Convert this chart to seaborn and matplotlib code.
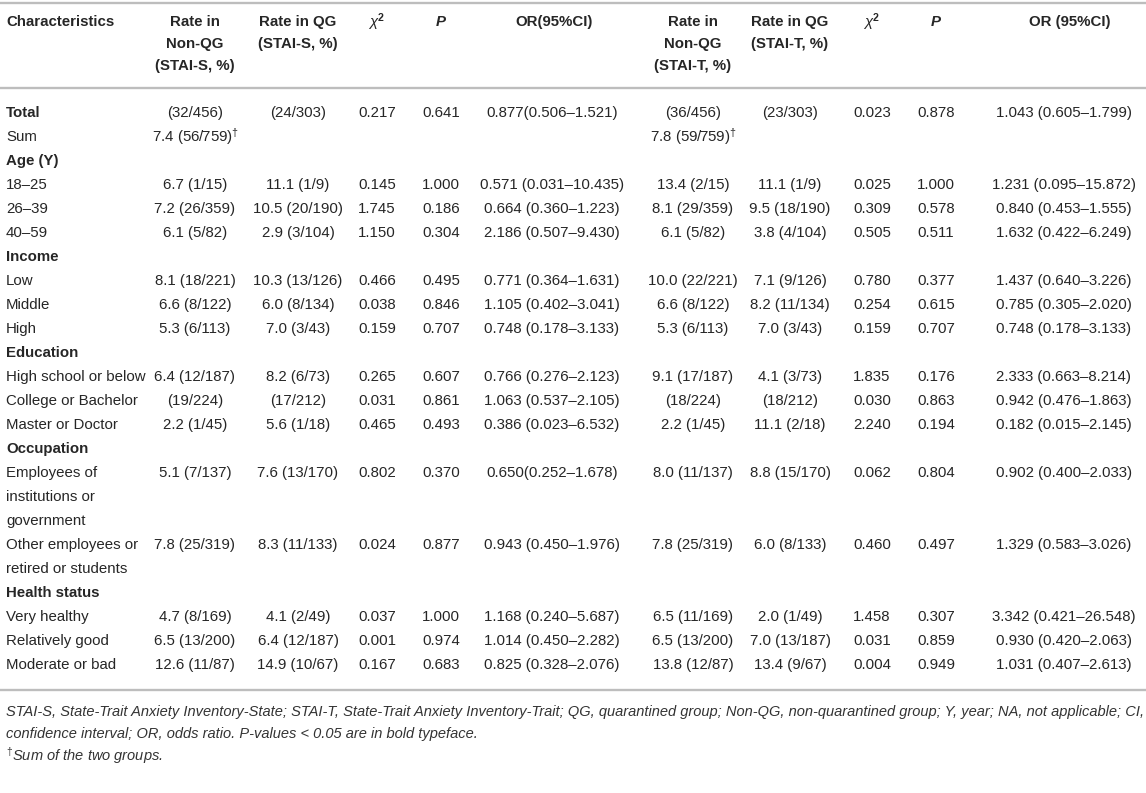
import matplotlib.pyplot as plt
import seaborn as sns

sns.set_style("white")
plt.rcParams["font.family"] = ["Liberation Sans", "DejaVu Sans"]
plt.rcParams["mathtext.fontset"] = "custom"
plt.rcParams["mathtext.rm"] = "Liberation Sans"
plt.rcParams["mathtext.it"] = "Liberation Sans:italic"
plt.rcParams["mathtext.bf"] = "Liberation Sans:bold"

# table contents
headers = ["Characteristics", "Rate in\nNon-QG\n(STAI-S, %)", "Rate in QG\n(STAI-S, %)", r"$\chi^{\mathbf{2}}$",
           "P", "OR(95%CI)", "Rate in\nNon-QG\n(STAI-T, %)", "Rate in QG\n(STAI-T, %)", r"$\chi^{\mathbf{2}}$",
           "P", "OR (95%CI)"]

row_labels = ["Total", "Sum", "Age (Y)", "18–25", "26–39", "40–59", "Income", "Low", "Middle", "High",
              "Education", "High school or below", "College or Bachelor", "Master or Doctor", "Occupation",
              "Employees of\ninstitutions or\ngovernment", "Other employees or\nretired or students",
              "Health status", "Very healthy", "Relatively good", "Moderate or bad"]
group_rows = ["Total", "Age (Y)", "Income", "Education", "Occupation", "Health status"]

rate_nonqg_s = ["(32/456)", r"7.4 (56/759)$^{\dagger}$", "", "6.7 (1/15)", "7.2 (26/359)", "6.1 (5/82)", "",
                "8.1 (18/221)", "6.6 (8/122)", "5.3 (6/113)", "", "6.4 (12/187)", "(19/224)", "2.2 (1/45)", "",
                "5.1 (7/137)", "7.8 (25/319)", "", "4.7 (8/169)", "6.5 (13/200)", "12.6 (11/87)"]
rate_qg_s = ["(24/303)", "", "", "11.1 (1/9)", "10.5 (20/190)", "2.9 (3/104)", "",
             "10.3 (13/126)", "6.0 (8/134)", "7.0 (3/43)", "", "8.2 (6/73)", "(17/212)", "5.6 (1/18)", "",
             "7.6 (13/170)", "8.3 (11/133)", "", "4.1 (2/49)", "6.4 (12/187)", "14.9 (10/67)"]
chi_s = ["0.217", "", "", "0.145", "1.745", "1.150", "", "0.466", "0.038", "0.159", "", "0.265", "0.031",
         "0.465", "", "0.802", "0.024", "", "0.037", "0.001", "0.167"]
p_s = ["0.641", "", "", "1.000", "0.186", "0.304", "", "0.495", "0.846", "0.707", "", "0.607", "0.861",
       "0.493", "", "0.370", "0.877", "", "1.000", "0.974", "0.683"]
or_s = ["0.877(0.506–1.521)", "", "", "0.571 (0.031–10.435)", "0.664 (0.360–1.223)", "2.186 (0.507–9.430)", "",
        "0.771 (0.364–1.631)", "1.105 (0.402–3.041)", "0.748 (0.178–3.133)", "", "0.766 (0.276–2.123)",
        "1.063 (0.537–2.105)", "0.386 (0.023–6.532)", "", "0.650(0.252–1.678)", "0.943 (0.450–1.976)", "",
        "1.168 (0.240–5.687)", "1.014 (0.450–2.282)", "0.825 (0.328–2.076)"]
rate_nonqg_t = ["(36/456)", r"7.8 (59/759)$^{\dagger}$", "", "13.4 (2/15)", "8.1 (29/359)", "6.1 (5/82)", "",
                "10.0 (22/221)", "6.6 (8/122)", "5.3 (6/113)", "", "9.1 (17/187)", "(18/224)", "2.2 (1/45)", "",
                "8.0 (11/137)", "7.8 (25/319)", "", "6.5 (11/169)", "6.5 (13/200)", "13.8 (12/87)"]
rate_qg_t = ["(23/303)", "", "", "11.1 (1/9)", "9.5 (18/190)", "3.8 (4/104)", "",
             "7.1 (9/126)", "8.2 (11/134)", "7.0 (3/43)", "", "4.1 (3/73)", "(18/212)", "11.1 (2/18)", "",
             "8.8 (15/170)", "6.0 (8/133)", "", "2.0 (1/49)", "7.0 (13/187)", "13.4 (9/67)"]
chi_t = ["0.023", "", "", "0.025", "0.309", "0.505", "", "0.780", "0.254", "0.159", "", "1.835", "0.030",
         "2.240", "", "0.062", "0.460", "", "1.458", "0.031", "0.004"]
p_t = ["0.878", "", "", "1.000", "0.578", "0.511", "", "0.377", "0.615", "0.707", "", "0.176", "0.863",
       "0.194", "", "0.804", "0.497", "", "0.307", "0.859", "0.949"]
or_t = ["1.043 (0.605–1.799)", "", "", "1.231 (0.095–15.872)", "0.840 (0.453–1.555)", "1.632 (0.422–6.249)", "",
        "1.437 (0.640–3.226)", "0.785 (0.305–2.020)", "0.748 (0.178–3.133)", "", "2.333 (0.663–8.214)",
        "0.942 (0.476–1.863)", "0.182 (0.015–2.145)", "", "0.902 (0.400–2.033)", "1.329 (0.583–3.026)", "",
        "3.342 (0.421–26.548)", "0.930 (0.420–2.063)", "1.031 (0.407–2.613)"]

footnotes = ["STAI-S, State-Trait Anxiety Inventory-State; STAI-T, State-Trait Anxiety Inventory-Trait; QG, quarantined "
             "group; Non-QG, non-quarantined group; Y, year; NA, not applicable; CI,",
             "confidence interval; OR, odds ratio. P-values < 0.05 are in bold typeface.",
             r"$^{\dagger}$Sum of the two groups."]

columns = [rate_nonqg_s, rate_qg_s, chi_s, p_s, or_s, rate_nonqg_t, rate_qg_t, chi_t, p_t, or_t]

# layout (pixels)
col_x = [195, 298, 377, 441, 552, 693, 790, 872, 936, 1064]
head_x = [195, 298, 377, 441, 554, 693, 790, 872, 936, 1070]
fs = 10.8
txt = "#262626"
line_col = "#bdbdbd"

fig = plt.figure(figsize=(11.46, 7.93), dpi=100)
ax = fig.add_axes([0, 0, 1, 1])
ax.set_xlim(0, 1146)
ax.set_ylim(793, 0)
ax.axis("off")

for yl in [3, 88, 690]:
    ax.axhline(yl, color=line_col, lw=1.7)

# header
ax.text(6, 22, headers[0], ha="left", va="center", fontsize=fs, fontweight="bold", color=txt)
for i, h in enumerate(headers[1:]):
    for k, part in enumerate(h.split("\n")):
        style = "italic" if part == "P" else "normal"
        ax.text(head_x[i], 22 + k * 22, part, ha="center", va="center", fontsize=fs,
                fontweight="bold", fontstyle=style, color=txt)

# body
y = 113
for r, lab in enumerate(row_labels):
    parts = lab.split("\n")
    bold = lab in group_rows
    for k, part in enumerate(parts):
        ax.text(6, y + k * 24, part, ha="left", va="center", fontsize=fs,
                fontweight="bold" if bold else "normal", color=txt)
    for c, col in enumerate(columns):
        if col[r]:
            ax.text(col_x[c], y, col[r], ha="center", va="center", fontsize=fs, color=txt)
    y += 24 * len(parts)

# footnotes
for k, note in enumerate(footnotes):
    ax.text(6, 712 + k * 22, note, ha="left", va="center", fontsize=10.5, fontstyle="italic", color="#333333")

fig.savefig("out.png", dpi=100)
